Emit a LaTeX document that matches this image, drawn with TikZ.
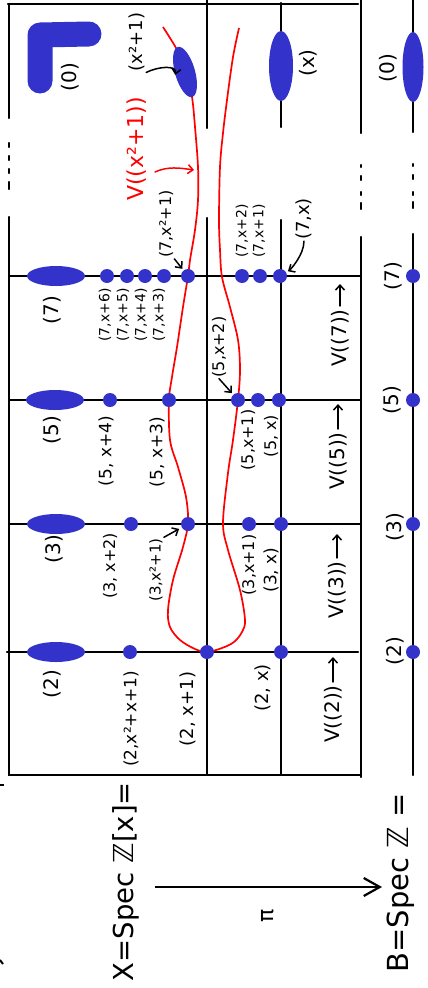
\documentclass[tikz,border=0pt]{standalone}
\usepackage{fontspec}
\setmainfont{DejaVu Sans}
\usetikzlibrary{shapes.geometric,arrows.meta,calc}
\definecolor{blobc}{RGB}{51,51,204}
\newcommand\fsz[1]{\fontsize{#1}{#1}\selectfont}
\begin{document}
\begin{tikzpicture}[x=1pt,y=-1pt,
 bline/.style={line width=2.4pt,line cap=round},
 bdot/.style={circle,fill=blobc,inner sep=0pt,minimum size=14pt},
 blob/.style={ellipse,fill=blobc,inner sep=0pt},
 fblob/.style={blob,minimum width=58pt,minimum height=20pt},
 lbl/.style={rotate=90,inner sep=1pt},
 arr/.style={line width=1.5pt,line cap=round,-{Straight Barb[length=5pt,width=9pt]}},
 pimap/.style={line width=2.2pt,-{Straight Barb[length=16pt,width=18pt]}},
 redcurve/.style={line width=1.7pt,color=red},
]
\useasboundingbox (0,0) rectangle (428,988);

% frame and lines
\draw[bline] (8,4) -- (358,4);
\draw[bline] (9,4) -- (9,118);
\draw[bline] (9,217) -- (9,775) -- (361,775);
\draw[bline] (361,0) -- (361,133);
\draw[bline] (361,237) -- (361,777);
\draw[bline] (207,0) -- (207,128);
\draw[bline] (207,218) -- (207,775);
\draw[bline] (281,3) -- (281,127);
\draw[bline] (281,220) -- (281,775);
\draw[bline] (413,0) -- (413,132);
\draw[bline] (413,234) -- (413,775);
\foreach \ya/\yb in {143/147,156/160,169/173,182/189} \draw[bline] (9,\ya) -- (9,\yb);
\foreach \ya/\yb in {165/167,176/180,192/195,203/209} \draw[bline] (361,\ya) -- (361,\yb);
\foreach \ya/\yb in {164/166,175/179,192/195,202/208} \draw[bline] (413,\ya) -- (413,\yb);
\foreach \yy in {276,400,524} \draw[bline] (9,\yy) -- (361,\yy);
\draw[bline] (7,652) -- (358,652);
% fragments at left edge
\draw[line width=2pt] (0,785) -- (4,785);
\draw[line width=2pt] (0,960) -- (3,964);

% red curve V((x^2+1))
\draw[redcurve] plot[smooth,tension=0.55] coordinates {
 (163,27) (170,38) (177,50) (186,72) (192,97) (195,127) (198,167) (198,200)
 (195,230) (190,260) (188,276) (183,307) (177,347) (172,377) (169,400)
 (170,440) (178,467) (186,497) (188,523) (183,547) (173,580) (168,610)
 (170,627) (180,640) (195,649) (207,652) (222,648) (234,642) (242,632)
 (245,620) (240,590) (228,550) (223,523) (228,473) (233,440) (238,400)
 (240,370) (238,340) (230,307) (222,277) (220,250) (219,220) (220,167)
 (223,133) (227,100) (233,57) (239,28)};

% generic fibre blobs
\draw[blobc,line width=25pt,line cap=round,line join=round] (40,81) -- (40,35) -- (89,34);
\node[blob,minimum width=20pt,minimum height=52pt,rotate=16] (gx2) at (185,72) {};
\node[blob,minimum width=24pt,minimum height=70pt] (gx) at (281,66) {};
\node[blob,minimum width=21pt,minimum height=70pt] (gb0) at (413,67) {};

% fibre blobs
\node[fblob] (e7) at (56,276) {};
\node[fblob] (e5) at (55,400) {};
\node[fblob] (e3) at (56,524) {};
\node[fblob] (e2) at (56,652) {};

% dots
\foreach \n/\xx in {a/107,b/127,c/145,d/164,e/188,f/242,g/260,h/280}
  \node[bdot] (d7\n) at (\xx,276) {};
\foreach \n/\xx in {a/110,b/169,c/238,d/258,e/279}
  \node[bdot] (d5\n) at (\xx,400) {};
\foreach \n/\xx in {a/131,b/188,c/249,d/281}
  \node[bdot] (d3\n) at (\xx,524) {};
\foreach \n/\xx in {a/130,b/207,c/281}
  \node[bdot] (d2\n) at (\xx,652) {};
\foreach \n/\yy in {7/276,5/400,3/524,2/652}
  \node[bdot] (b\n) at (413,\yy) {};

% generic labels
\node[lbl,font=\fsz{20}] (l0) at (70,77) {(0)};
\node[lbl,font=\fsz{18}] (lx2) at (137,42) {(x²+1)};
\node[lbl,font=\fsz{20}] (lx) at (308,63) {(x)};
\node[lbl,font=\fsz{20}] (lb0) at (388,68) {(0)};
\node[lbl,font=\fsz{22},text=red] (lV) at (137,149) {V((x²+1))};

% fibre over 7
\node[lbl,font=\fsz{20}] (l7) at (52,310) {(7)};
\node[lbl,font=\fsz{14}] (l7a) at (105,315) {(7,x+6)};
\node[lbl,font=\fsz{14}] (l7b) at (123,315) {(7,x+5)};
\node[lbl,font=\fsz{14}] (l7c) at (141,315) {(7,x+4)};
\node[lbl,font=\fsz{14}] (l7d) at (159,315) {(7,x+3)};
\node[lbl,font=\fsz{16}] (l7r) at (166,224) {(7,x²+1)};
\node[lbl,font=\fsz{14}] (l7s) at (242,231) {(7,x+2)};
\node[lbl,font=\fsz{14}] (l7t) at (259,231) {(7,x+1)};
\node[lbl,font=\fsz{18}] (l7x) at (304,219) {(7,x)};
\node[lbl,font=\fsz{20},anchor=west] (lV7) at (340,368) {V((7))};
\node[lbl,font=\fsz{20}] (lb7) at (393,276) {(7)};

% fibre over 5
\node[lbl,font=\fsz{20}] (l5) at (52,430) {(5)};
\node[lbl,font=\fsz{17}] (l5a) at (106,451) {(5, x+4)};
\node[lbl,font=\fsz{17}] (l5b) at (157,452) {(5, x+3)};
\node[lbl,font=\fsz{16}] (l5c) at (219,347) {(5,x+2)};
\node[lbl,font=\fsz{16}] (l5d) at (248,440) {(5,x+1)};
\node[lbl,font=\fsz{16}] (l5e) at (271,436) {(5, x)};
\node[lbl,font=\fsz{20},anchor=west] (lV5) at (338,491) {V((5))};
\node[lbl,font=\fsz{20}] (lb5) at (392,400) {(5)};

% fibre over 3
\node[lbl,font=\fsz{20}] (l3) at (54,549) {(3)};
\node[lbl,font=\fsz{16}] (l3a) at (110,566) {(3, x+2)};
\node[lbl,font=\fsz{15}] (l3b) at (156,570) {(3,x²+1)};
\node[lbl,font=\fsz{16}] (l3c) at (249,565) {(3,x+1)};
\node[lbl,font=\fsz{17}] (l3d) at (271,570) {(3, x)};
\node[lbl,font=\fsz{20},anchor=west] (lV3) at (337,620) {V((3))};
\node[lbl,font=\fsz{20}] (lb3) at (395,527) {(3)};

% fibre over 2
\node[lbl,font=\fsz{20}] (l2) at (52,684) {(2)};
\node[lbl,font=\fsz{17}] (l2a) at (131,719) {(2,x²+x+1)};
\node[lbl,font=\fsz{18}] (l2b) at (188,709) {(2, x+1)};
\node[lbl,font=\fsz{18}] (l2c) at (263,688) {(2, x)};
\node[lbl,font=\fsz{20},anchor=west] (lV2) at (333,744) {V((2))};
\node[lbl,font=\fsz{20}] (lb2) at (395,651) {(2)};

% bottom
\node[lbl,font=\fsz{27.5},anchor=east] (lX) at (126,781) {X=Spec ℤ[x]=};
\node[lbl,font=\fsz{29},anchor=east] (lB) at (401,792) {B=Spec ℤ =};
\node[lbl,font=\fsz{22}] (lpi) at (268,916) {π};
\coordinate (ps) at (155,887);
\coordinate (pe) at (382,887);
\draw[pimap] (ps) -- (pe);

% label arrows
\coordinate (t7) at (340,284);
\coordinate (t5) at (338,404);
\coordinate (t3) at (337,534);
\coordinate (t2) at (333,657);
\draw[arr,shorten <=2pt] (lV7.east) -- (t7);
\draw[arr,shorten <=2pt] (lV5.east) -- (t5);
\draw[arr,shorten <=2pt] (lV3.east) -- (t3);
\draw[arr,shorten <=2pt] (lV2.east) -- (t2);
\draw[arr] (lx2.south west) .. controls +(12,-6) and +(2,-10) .. (gx2.west);
\draw[arr,shorten >=2pt] (l7r.south west) -- (d7e);
\draw[arr,shorten >=2pt] (l5c.west) -- (d5c);
\draw[arr,shorten >=3pt] (l3b.south east) -- (d3b);
\draw[arr,shorten >=2pt] (l7x.west) .. controls +(0,14) and +(10,-6) .. (d7h);
\coordinate (vs) at (155,172);
\coordinate (vt) at (194,170);
\draw[arr,red] (vs) .. controls (168,166) and (180,168) .. (vt);
\end{tikzpicture}
\end{document}
